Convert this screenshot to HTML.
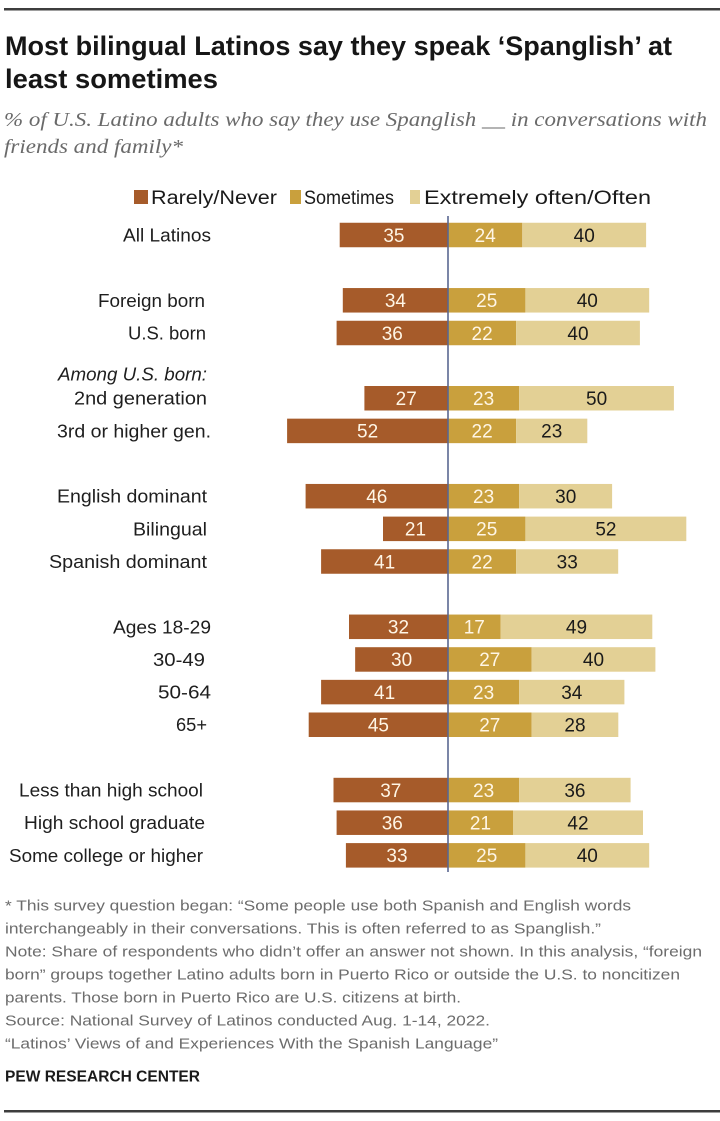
<!DOCTYPE html>
<html>
<head>
<meta charset="utf-8">
<style>
  html,body{margin:0;padding:0;background:#fff;}
  svg{display:block;}
  .sans{font-family:"Liberation Sans",Arial,sans-serif;}
  .serif{font-family:"Liberation Serif","Times New Roman",serif;}
  .lbl{font-size:18.5px;fill:#1e1e1e;}
  .num{font-size:19px;text-anchor:middle;}
  .w{fill:#fff6e6;}
  .k{fill:#1a1a1a;}
  .fn{font-size:14.5px;fill:#6c6c6c;}
</style>
</head>
<body>
<svg width="720" height="1121" viewBox="0 0 720 1121" xmlns="http://www.w3.org/2000/svg">
  <rect x="0" y="0" width="720" height="1121" fill="#fff"/>
  <!-- top rule -->
  <rect x="4" y="8" width="716" height="2.5" fill="#3e3e3e"/>

  <!-- title -->
  <text class="sans" x="5" y="55" font-size="27" font-weight="bold" fill="#161616" textLength="667" lengthAdjust="spacingAndGlyphs">Most bilingual Latinos say they speak ‘Spanglish’ at</text>
  <text class="sans" x="5" y="88" font-size="27" font-weight="bold" fill="#161616" textLength="213" lengthAdjust="spacingAndGlyphs">least sometimes</text>

  <!-- subtitle -->
  <text class="serif" x="4" y="126" font-size="19.5" font-style="italic" fill="#6a6a6a" textLength="703" lengthAdjust="spacingAndGlyphs">% of U.S. Latino adults who say they use Spanglish __ in conversations with</text>
  <text class="serif" x="4" y="153" font-size="19.5" font-style="italic" fill="#6a6a6a" textLength="179" lengthAdjust="spacingAndGlyphs">friends and family*</text>

  <!-- legend -->
  <rect x="134" y="190" width="14" height="14" fill="#a65b2a"/>
  <text class="sans" x="151" y="204" font-size="19" fill="#1a1a1a" textLength="126" lengthAdjust="spacingAndGlyphs">Rarely/Never</text>
  <rect x="290" y="190" width="11" height="14" fill="#c9a03d"/>
  <text class="sans" x="304" y="204" font-size="19" fill="#1a1a1a" textLength="90" lengthAdjust="spacingAndGlyphs">Sometimes</text>
  <rect x="410" y="190" width="10" height="14" fill="#e3d095"/>
  <text class="sans" x="424" y="204" font-size="19" fill="#1a1a1a" textLength="227" lengthAdjust="spacingAndGlyphs">Extremely often/Often</text>

  <!-- row labels -->
  <g class="sans lbl">
    <text x="123" y="241.5" textLength="88" lengthAdjust="spacingAndGlyphs">All Latinos</text>
    <text x="98" y="306.8" textLength="107" lengthAdjust="spacingAndGlyphs">Foreign born</text>
    <text x="128" y="339.5" textLength="78" lengthAdjust="spacingAndGlyphs">U.S. born</text>
    <text x="58" y="380.7" font-style="italic" textLength="149" lengthAdjust="spacingAndGlyphs">Among U.S. born:</text>
    <text x="74" y="404.7" textLength="133" lengthAdjust="spacingAndGlyphs">2nd generation</text>
    <text x="57" y="437.4" textLength="154" lengthAdjust="spacingAndGlyphs">3rd or higher gen.</text>
    <text x="57" y="502.7" textLength="150" lengthAdjust="spacingAndGlyphs">English dominant</text>
    <text x="133" y="535.3" textLength="74" lengthAdjust="spacingAndGlyphs">Bilingual</text>
    <text x="49" y="568" textLength="158" lengthAdjust="spacingAndGlyphs">Spanish dominant</text>
    <text x="113" y="633.3" textLength="98" lengthAdjust="spacingAndGlyphs">Ages 18-29</text>
    <text x="153" y="665.9" textLength="52" lengthAdjust="spacingAndGlyphs">30-49</text>
    <text x="158" y="698.6" textLength="53" lengthAdjust="spacingAndGlyphs">50-64</text>
    <text x="176" y="731.2" textLength="31" lengthAdjust="spacingAndGlyphs">65+</text>
    <text x="19" y="796.5" textLength="184" lengthAdjust="spacingAndGlyphs">Less than high school</text>
    <text x="24" y="829.2" textLength="181" lengthAdjust="spacingAndGlyphs">High school graduate</text>
    <text x="9" y="861.8" textLength="194" lengthAdjust="spacingAndGlyphs">Some college or higher</text>
  </g>

  <!-- bars -->
  <g>
    <rect x="339.7" y="222.75" width="108.3" height="24.5" fill="#a65b2a"/>
    <rect x="448" y="222.75" width="74.3" height="24.5" fill="#c9a03d"/>
    <rect x="522.3" y="222.75" width="123.8" height="24.5" fill="#e3d095"/>

    <rect x="342.8" y="288.05" width="105.2" height="24.5" fill="#a65b2a"/>
    <rect x="448" y="288.05" width="77.4" height="24.5" fill="#c9a03d"/>
    <rect x="525.4" y="288.05" width="123.8" height="24.5" fill="#e3d095"/>

    <rect x="336.6" y="320.75" width="111.4" height="24.5" fill="#a65b2a"/>
    <rect x="448" y="320.75" width="68.1" height="24.5" fill="#c9a03d"/>
    <rect x="516.1" y="320.75" width="123.8" height="24.5" fill="#e3d095"/>

    <rect x="364.4" y="386" width="83.6" height="24.5" fill="#a65b2a"/>
    <rect x="448" y="386" width="71.2" height="24.5" fill="#c9a03d"/>
    <rect x="519.2" y="386" width="154.7" height="24.5" fill="#e3d095"/>

    <rect x="287.1" y="418.65" width="160.9" height="24.5" fill="#a65b2a"/>
    <rect x="448" y="418.65" width="68.1" height="24.5" fill="#c9a03d"/>
    <rect x="516.1" y="418.65" width="71.2" height="24.5" fill="#e3d095"/>

    <rect x="305.6" y="483.95" width="142.4" height="24.5" fill="#a65b2a"/>
    <rect x="448" y="483.95" width="71.2" height="24.5" fill="#c9a03d"/>
    <rect x="519.2" y="483.95" width="92.9" height="24.5" fill="#e3d095"/>

    <rect x="383" y="516.6" width="65" height="24.5" fill="#a65b2a"/>
    <rect x="448" y="516.6" width="77.4" height="24.5" fill="#c9a03d"/>
    <rect x="525.4" y="516.6" width="160.9" height="24.5" fill="#e3d095"/>

    <rect x="321.1" y="549.25" width="126.9" height="24.5" fill="#a65b2a"/>
    <rect x="448" y="549.25" width="68.1" height="24.5" fill="#c9a03d"/>
    <rect x="516.1" y="549.25" width="102.1" height="24.5" fill="#e3d095"/>

    <rect x="349" y="614.55" width="99" height="24.5" fill="#a65b2a"/>
    <rect x="448" y="614.55" width="52.6" height="24.5" fill="#c9a03d"/>
    <rect x="500.6" y="614.55" width="151.7" height="24.5" fill="#e3d095"/>

    <rect x="355.15" y="647.2" width="92.85" height="24.5" fill="#a65b2a"/>
    <rect x="448" y="647.2" width="83.6" height="24.5" fill="#c9a03d"/>
    <rect x="531.6" y="647.2" width="123.8" height="24.5" fill="#e3d095"/>

    <rect x="321.1" y="679.85" width="126.9" height="24.5" fill="#a65b2a"/>
    <rect x="448" y="679.85" width="71.2" height="24.5" fill="#c9a03d"/>
    <rect x="519.2" y="679.85" width="105.2" height="24.5" fill="#e3d095"/>

    <rect x="308.7" y="712.5" width="139.3" height="24.5" fill="#a65b2a"/>
    <rect x="448" y="712.5" width="83.6" height="24.5" fill="#c9a03d"/>
    <rect x="531.6" y="712.5" width="86.7" height="24.5" fill="#e3d095"/>

    <rect x="333.5" y="777.8" width="114.5" height="24.5" fill="#a65b2a"/>
    <rect x="448" y="777.8" width="71.2" height="24.5" fill="#c9a03d"/>
    <rect x="519.2" y="777.8" width="111.4" height="24.5" fill="#e3d095"/>

    <rect x="336.6" y="810.45" width="111.4" height="24.5" fill="#a65b2a"/>
    <rect x="448" y="810.45" width="65" height="24.5" fill="#c9a03d"/>
    <rect x="513" y="810.45" width="130" height="24.5" fill="#e3d095"/>

    <rect x="345.9" y="843.1" width="102.1" height="24.5" fill="#a65b2a"/>
    <rect x="448" y="843.1" width="77.4" height="24.5" fill="#c9a03d"/>
    <rect x="525.4" y="843.1" width="123.8" height="24.5" fill="#e3d095"/>
  </g>

  <!-- center line -->
  <line x1="448" y1="216" x2="448" y2="872" stroke="#5a6791" stroke-width="1.6"/>

  <!-- numbers -->
  <g class="sans num">
    <text class="w" x="393.9" y="241.8">35</text><text class="w" x="485.2" y="241.8">24</text><text class="k" x="584.2" y="241.8">40</text>
    <text class="w" x="395.4" y="307.1">34</text><text class="w" x="486.7" y="307.1">25</text><text class="k" x="587.3" y="307.1">40</text>
    <text class="w" x="392.3" y="339.8">36</text><text class="w" x="482.1" y="339.8">22</text><text class="k" x="578" y="339.8">40</text>
    <text class="w" x="406.2" y="405">27</text><text class="w" x="483.6" y="405">23</text><text class="k" x="596.6" y="405">50</text>
    <text class="w" x="367.6" y="437.7">52</text><text class="w" x="482.1" y="437.7">22</text><text class="k" x="551.7" y="437.7">23</text>
    <text class="w" x="376.8" y="503">46</text><text class="w" x="483.6" y="503">23</text><text class="k" x="565.7" y="503">30</text>
    <text class="w" x="415.5" y="535.6">21</text><text class="w" x="486.7" y="535.6">25</text><text class="k" x="605.9" y="535.6">52</text>
    <text class="w" x="384.6" y="568.3">41</text><text class="w" x="482.1" y="568.3">22</text><text class="k" x="567.2" y="568.3">33</text>
    <text class="w" x="398.5" y="633.6">32</text><text class="w" x="474.3" y="633.6">17</text><text class="k" x="576.5" y="633.6">49</text>
    <text class="w" x="401.6" y="666.2">30</text><text class="w" x="489.8" y="666.2">27</text><text class="k" x="593.5" y="666.2">40</text>
    <text class="w" x="384.6" y="698.9">41</text><text class="w" x="483.6" y="698.9">23</text><text class="k" x="571.8" y="698.9">34</text>
    <text class="w" x="378.4" y="731.5">45</text><text class="w" x="489.8" y="731.5">27</text><text class="k" x="575" y="731.5">28</text>
    <text class="w" x="390.8" y="796.8">37</text><text class="w" x="483.6" y="796.8">23</text><text class="k" x="574.9" y="796.8">36</text>
    <text class="w" x="392.3" y="829.5">36</text><text class="w" x="480.5" y="829.5">21</text><text class="k" x="578" y="829.5">42</text>
    <text class="w" x="397" y="862.1">33</text><text class="w" x="486.7" y="862.1">25</text><text class="k" x="587.3" y="862.1">40</text>
  </g>

  <!-- footnotes -->
  <g class="sans fn">
    <text x="5" y="910.5" textLength="626" lengthAdjust="spacingAndGlyphs">* This survey question began: “Some people use both Spanish and English words</text>
    <text x="5" y="933.5" textLength="596" lengthAdjust="spacingAndGlyphs">interchangeably in their conversations. This is often referred to as Spanglish.”</text>
    <text x="5" y="956.5" textLength="697" lengthAdjust="spacingAndGlyphs">Note: Share of respondents who didn’t offer an answer not shown. In this analysis, “foreign</text>
    <text x="5" y="979.5" textLength="675" lengthAdjust="spacingAndGlyphs">born” groups together Latino adults born in Puerto Rico or outside the U.S. to noncitizen</text>
    <text x="5" y="1002.5" textLength="456" lengthAdjust="spacingAndGlyphs">parents. Those born in Puerto Rico are U.S. citizens at birth.</text>
    <text x="5" y="1025.5" textLength="485" lengthAdjust="spacingAndGlyphs">Source: National Survey of Latinos conducted Aug. 1-14, 2022.</text>
    <text x="5" y="1048.5" textLength="493" lengthAdjust="spacingAndGlyphs">“Latinos’ Views of and Experiences With the Spanish Language”</text>
  </g>
  <text class="sans" x="5" y="1081.5" font-size="16" font-weight="bold" fill="#1a1a1a" textLength="195" lengthAdjust="spacingAndGlyphs">PEW RESEARCH CENTER</text>

  <!-- bottom rule -->
  <rect x="4" y="1110" width="716" height="2.5" fill="#3e3e3e"/>
</svg>
</body>
</html>
